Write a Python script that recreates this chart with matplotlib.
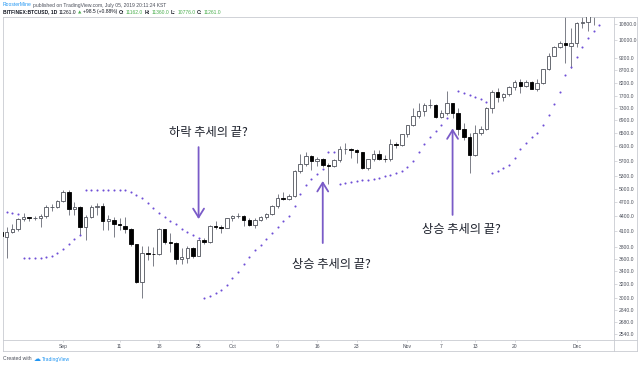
import matplotlib
matplotlib.use("Agg")
import matplotlib.pyplot as plt
from matplotlib.lines import Line2D
import numpy as np
import pandas as pd

plt.rcParams['font.family'] = ['Liberation Sans', 'DejaVu Sans']

# ---------- data (BITFINEX:BTCUSD daily) ----------
dates = pd.date_range('2017-08-21', periods=107, freq='D')

opens = [4080, 4000, 4090, 4150, 4340, 4380, 4360, 4370, 4400, 4590,
         4600, 4730, 4930, 4550, 4600, 4190, 4380, 4600, 4620, 4310,
         4330, 4250, 4210, 4150, 3860, 3240, 3700, 3690, 3680, 4140,
         3905, 3880, 3600, 3620, 3790, 3660, 3930, 3890, 4210, 4190,
         4170, 4360, 4395, 4405, 4320, 4220, 4320, 4380, 4450, 4610,
         4780, 4770, 4830, 5440, 5620, 5830, 5700, 5760, 5590, 5570,
         5710, 6010, 6020, 5990, 5930, 5510, 5740, 5880, 5760, 5740,
         6160, 6140, 6460, 6740, 7030, 7180, 7380, 7390, 6990, 7120,
         7450, 7130, 6610, 6360, 5860, 6490, 6600, 7290, 7860, 7690,
         7770, 8050, 8240, 8090, 8240, 7980, 8210, 8740, 9300, 9720,
         9880, 9760, 9880, 10830, 10880, 11300, 11600]
highs = [4110, 4180, 4250, 4360, 4460, 4390, 4410, 4440, 4630, 4660,
         4750, 4960, 4975, 4710, 4610, 4430, 4640, 4680, 4680, 4420,
         4390, 4360, 4390, 4170, 3870, 3820, 3820, 3800, 4160, 4150,
         4060, 3900, 3790, 3820, 3800, 3960, 3980, 4230, 4300, 4230,
         4370, 4420, 4470, 4420, 4360, 4370, 4400, 4470, 4630, 4880,
         4920, 4880, 5460, 5870, 5930, 5860, 5800, 5780, 5640, 5740,
         6100, 6190, 6060, 6030, 5950, 5760, 5980, 5990, 5860, 6310,
         6230, 6470, 6750, 7300, 7460, 7480, 7600, 7420, 7210, 7880,
         7470, 7300, 6800, 6480, 6740, 6700, 7330, 7940, 8000, 7830,
         8100, 8300, 8370, 8300, 8290, 8340, 8760, 9450, 9750, 9980,
         11400, 10580, 10900, 11200, 11850, 11650, 11900]
lows = [3960, 3620, 4060, 4110, 4300, 4300, 4320, 4180, 4370, 4510,
        4580, 4700, 4420, 4420, 4030, 3940, 4370, 4430, 4120, 4130,
        4000, 4130, 4060, 3830, 3220, 2995, 3580, 3490, 3670, 3860,
        3720, 3510, 3510, 3540, 3620, 3650, 3860, 3880, 4150, 4070,
        4160, 4300, 4360, 4210, 4200, 4170, 4300, 4350, 4420, 4560,
        4740, 4750, 4820, 5380, 5570, 5470, 5560, 5530, 5120, 5540,
        5660, 5880, 5780, 5640, 5480, 5450, 5700, 5710, 5660, 5700,
        6040, 6100, 6380, 6700, 6950, 7040, 7280, 6950, 6960, 7070,
        6950, 6420, 6280, 5390, 5820, 6440, 6590, 7130, 7500, 7520,
        7700, 7950, 7840, 8060, 7960, 7880, 8170, 8710, 9280, 9650,
        9000, 8780, 9700, 10600, 10450, 10750, 11480]
closes = [4010, 4090, 4150, 4340, 4380, 4360, 4370, 4400, 4600, 4600,
          4730, 4920, 4550, 4600, 4190, 4380, 4600, 4620, 4310, 4350,
          4250, 4230, 4150, 3860, 3240, 3700, 3690, 3680, 4140, 3900,
          3880, 3600, 3630, 3790, 3660, 3930, 3890, 4210, 4190, 4170,
          4360, 4395, 4400, 4320, 4220, 4320, 4380, 4450, 4610, 4780,
          4770, 4830, 5440, 5620, 5820, 5700, 5760, 5590, 5570, 5710,
          6010, 6020, 5990, 5930, 5510, 5740, 5880, 5760, 5740, 6160,
          6140, 6460, 6740, 7030, 7180, 7380, 7390, 6990, 7120, 7450,
          7130, 6610, 6360, 5860, 6490, 6600, 7290, 7860, 7690, 7770,
          8050, 8240, 8090, 8240, 7980, 8210, 8740, 9300, 9720, 9880,
          9800, 9880, 10830, 10880, 11300, 11600, 11700]
# parabolic SAR dots
sar = [4500, 4485, 4465, 4450, 3615, 3615, 3620, 3625, 3635, 3660,
       3705, 3775, 3865, 3955, 4030, 4975, 4975, 4975, 4975, 4975,
       4975, 4975, 4975, 4915, 4860, 4780, 4675, 4565, 4465, 4385,
       4300, 4235, 4150, 4085, 4020, 3975, 2995, 3025, 3065, 3115,
       3190, 3290, 3395, 3515, 3635, 3750, 3850, 3955, 4075, 4180,
       4305, 4405, 4605, 4880, 5080, 5240, 5365, 5490, 5930, 5930,
       5115, 5145, 5165, 5185, 5200, 5220, 5245, 5270, 5300, 5340,
       5390, 5445, 5540, 5690, 5925, 6165, 6370, 6545, 6735, 6950,
       np.nan, 7895, 7830, 7760, 7690, 7600, 7490, 5390, 5440, 5500,
       5590, 5770, 6020, 6195, 6360, 6495, 6735, 7060, 7415, 7860,
       8510, 8815, 9270, 9685, 10120, 10450, 10750]

price_ticks = [2540, 2680, 2840, 3000, 3200, 3400, 3600, 3800, 4100, 4400,
               4700, 5000, 5300, 5700, 6100, 6500, 6900, 7300, 7700, 8200,
               8700, 9200, 10000, 10800]
date_ticks = ['2017-09-01', '2017-09-11', '2017-09-18', '2017-09-25',
              '2017-10-01', '2017-10-09', '2017-10-16', '2017-10-23',
              '2017-11-01', '2017-11-07', '2017-11-13', '2017-11-20',
              '2017-12-01']
date_labels = ['Sep', '11', '18', '25', 'Oct', '9', '16', '23',
               'Nov', '7', '13', '20', 'Dec']

notes = ['하락 추세의 끝?', '상승 추세의 끝?', '상승 추세의 끝?']
note_x = [36.7, 58.5, 81.5]
note_y = [6490, 3505, 4140]
arrow_day = ['2017-09-25', '2017-10-17', '2017-11-09']
arrow_tail = [6075, 3880, 4425]
arrow_tip = [4340, 5185, 6630]

# ---------- figure ----------
W, H = 640, 366
fig = plt.figure(figsize=(W / 100, H / 100), dpi=100)
ax = fig.add_axes([3 / W, 1 - 340 / H, 611 / W, 323 / H])

frame = '#c9cbd1'
txt = '#4a4e59'
purple = '#7a5bc8'
dots = '#6f4fd6'

x = np.arange(len(opens))
o = np.array(opens, float)
c = np.array(closes, float)
up = c >= o

ax.vlines(x, lows, highs, color='#7c7f88', lw=0.7, zorder=2)
bottom = np.minimum(o, c)
height = np.maximum(np.abs(c - o), bottom * 0.002)
ax.bar(x[up], height[up], bottom=bottom[up], width=0.62,
       facecolor='white', edgecolor='#50535c', lw=0.6, zorder=3)
ax.bar(x[~up], height[~up], bottom=bottom[~up], width=0.62,
       facecolor='black', edgecolor='black', lw=0.6, zorder=3)

ax.plot(x, sar, ls='none', marker='o', ms=1.5, mew=0, color=dots, zorder=4)

# annotations
for k in range(len(notes)):
    xi = dates.get_loc(pd.Timestamp(arrow_day[k]))
    ax.annotate('', xy=(xi, arrow_tip[k]), xytext=(xi, arrow_tail[k]),
                arrowprops=dict(arrowstyle='->,head_length=0.45,head_width=0.28',
                                color=purple, lw=1.3, shrinkA=0, shrinkB=0,
                                mutation_scale=14), zorder=5)
    ax.text(note_x[k], note_y[k], notes[k], ha='center', va='center',
            fontsize=8.8, color='#1e222d',
            family=['Noto Sans CJK KR', 'DejaVu Sans'], zorder=6)

ax.set_yscale('log')
ax.set_ylim(2466, 11160)
ax.set_xlim(0.35, 108.6)

ax.yaxis.tick_right()
ax.yaxis.set_minor_locator(matplotlib.ticker.NullLocator())
ax.set_yticks(price_ticks)
ax.set_yticklabels(['%.1f' % v for v in price_ticks])
ax.tick_params(axis='y', length=2, width=0.5, color=frame, labelsize=3.6,
               labelcolor=txt, pad=1.5)

ax.xaxis.set_minor_locator(matplotlib.ticker.NullLocator())
ax.set_xticks([dates.get_loc(pd.Timestamp(d)) for d in date_ticks])
ax.set_xticklabels(date_labels)
ax.tick_params(axis='x', length=1.5, width=0.5, color=frame, labelsize=3.6,
               labelcolor=txt, pad=1.5)

for s in ax.spines.values():
    s.set_color(frame)
    s.set_linewidth(0.6)

# outer frame of price / time strips
def hline(y, x0, x1):
    fig.add_artist(Line2D([x0 / W, x1 / W], [1 - y / H, 1 - y / H],
                          color=frame, lw=0.6))

def vline(xp, y0, y1):
    fig.add_artist(Line2D([xp / W, xp / W], [1 - y0 / H, 1 - y1 / H],
                          color=frame, lw=0.6))

hline(17, 614, 637)
hline(340, 614, 637)
hline(351, 3, 637)
vline(637, 17, 351)
vline(3, 340, 351)
vline(614, 340, 351)

# header / footer: runs of text laid out left to right
renderer = fig.canvas.get_renderer()

def text_run(y, parts, x0=3, gap=1.6):
    xp = x0
    for s, col, w, fam, size in parts:
        t = fig.text(xp / W, 1 - y / H, s, color=col, fontsize=size,
                     fontweight=w, va='center', family=fam)
        xp = t.get_window_extent(renderer).x1 + gap

green = '#4caf50'
dark = '#131722'
fs = 3.6
sans = ['Liberation Sans', 'DejaVu Sans']
text_run(5, [('RoosterMine', '#2196f3', 'normal', sans, fs),
             ('published on TradingView.com, July 05, 2019 20:11:24 KST', txt, 'normal', sans, fs)])
text_run(12, [('BITFINEX:BTCUSD, 1D', dark, 'bold', sans, fs),
              ('11261.0', dark, 'normal', sans, fs),
              ('▲', green, 'normal', ['DejaVu Sans'], 3.2),
              ('+98.5 (+0.88%)', dark, 'normal', sans, fs),
              ('O:', dark, 'bold', sans, fs),
              ('11162.0', green, 'normal', sans, fs),
              ('H:', dark, 'bold', sans, fs),
              ('11360.0', green, 'normal', sans, fs),
              ('L:', dark, 'bold', sans, fs),
              ('10776.0', green, 'normal', sans, fs),
              ('C:', dark, 'bold', sans, fs),
              ('11261.0', green, 'normal', sans, fs)])
text_run(359, [('Created with', txt, 'normal', sans, fs),
               ('☁', '#2196f3', 'normal', ['DejaVu Sans'], 5),
               ('TradingView', '#2196f3', 'normal', sans, fs)])

fig.savefig('out.png', dpi=100)
